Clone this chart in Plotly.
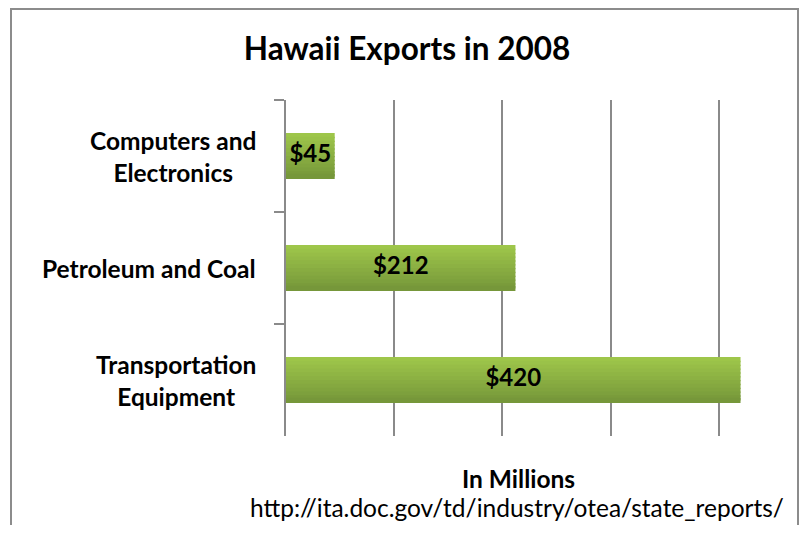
import plotly.graph_objects as go

categories = ["Computers and<br>Electronics", "Petroleum and Coal", "Transportation<br>Equipment"]
values = [45, 212, 420]
value_labels = ["$45", "$212", "$420"]
title_text = "Hawaii Exports in 2008"
x_title = "In Millions"
source_text = "http://ita.doc.gov/td/industry/otea/state_reports/"

FONT = "Lato"
# page has an 8px body margin, so the figure is drawn 8px in from the window edge
W, H = 791, 517
L, R, T, B = 278, 26, 92, 89
PW, PH = W - L - R, H - T - B

top_rgb = (158, 198, 74)
bot_rgb = (118, 151, 58)
N = 12
bar_w = 0.41
strip_w = bar_w / N + 0.012

fig = go.Figure()
for i in range(N):
    f = i / (N - 1)
    c = tuple(round(top_rgb[k] + (bot_rgb[k] - top_rgb[k]) * f) for k in range(3))
    start = -bar_w / 2 + i * bar_w / N
    fig.add_trace(go.Bar(
        y=categories, x=values, orientation="h",
        width=strip_w,
        offset=start if i < N - 1 else bar_w / 2 - strip_w,
        marker=dict(color="rgb(%d,%d,%d)" % c, line=dict(width=0)),
        hoverinfo="skip", showlegend=False,
    ))

fig.add_trace(go.Scatter(
    y=categories, x=[v / 2 for v in values], mode="text", text=value_labels,
    textfont=dict(family=FONT, size=24, color="black", weight="bold"),
    showlegend=False, hoverinfo="skip", cliponaxis=False,
))

for cat in categories:
    fig.add_annotation(
        x=0, xref="x domain", y=cat, yref="y", xanchor="right", yanchor="middle",
        xshift=-28, text="<b>%s</b>" % cat, showarrow=False, align="center",
        font=dict(family=FONT, size=24.5, color="black"),
    )

fig.add_annotation(x=0.5, xref="x domain", y=0, yref="y domain", yshift=-42, xshift=-11,
                   text="<b>%s</b>" % x_title, showarrow=False, xanchor="center",
                   yanchor="middle", font=dict(family=FONT, size=24.5, color="black"))
fig.add_annotation(x=0.5, xref="x domain", y=0, yref="y domain", yshift=-71, xshift=-13,
                   text=source_text, showarrow=False, xanchor="center",
                   yanchor="middle", font=dict(family=FONT, size=24.5, color="black"))

# chart frame
fig.add_shape(type="rect", xref="paper", yref="paper",
              x0=(3 - L) / PW, x1=(790 - L) / PW,
              y0=(H - B - 560) / PH, y1=(H - B - 1) / PH,
              line=dict(color="#8c8c8c", width=2), fillcolor="rgba(0,0,0,0)", layer="below")

fig.update_layout(
    width=W, height=H, margin=dict(l=L, r=R, t=T, b=B),
    paper_bgcolor="white", plot_bgcolor="white",
    barmode="overlay",
    title=dict(text="<b>%s</b>" % title_text, x=399 / W, xanchor="center",
               y=1 - 41 / H, yanchor="middle",
               font=dict(family=FONT, size=31.5, color="black")),
    xaxis=dict(range=[0, 450], dtick=100, showgrid=True, gridcolor="#8a8a8a", gridwidth=1.5,
               showticklabels=False, zeroline=False, showline=False, ticks=""),
    yaxis=dict(type="category", categoryarray=categories, autorange="reversed",
               showticklabels=False, showline=True, linecolor="#8a8a8a", linewidth=1.5,
               ticks="outside", tickson="boundaries", ticklen=10, tickcolor="#8a8a8a",
               tickwidth=1.5, showgrid=False),
    font=dict(family=FONT),
)

fig.write_html("out.html")
